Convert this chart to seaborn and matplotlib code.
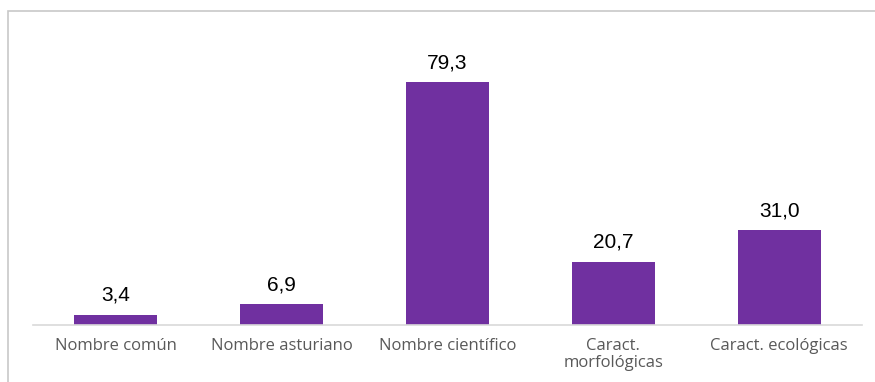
import matplotlib
matplotlib.use("Agg")
import matplotlib.pyplot as plt
import seaborn as sns
import pandas as pd
from matplotlib.patches import Rectangle

categories = ["Nombre común", "Nombre asturiano", "Nombre científico",
              "Caract.\nmorfológicas", "Caract. ecológicas"]
values = [3.4, 6.9, 79.3, 20.7, 31.0]
value_labels = ["3,4", "6,9", "79,3", "20,7", "31,0"]

df = pd.DataFrame({"cat": categories, "val": values})

sns.set_theme(style="white")
plt.rcParams['font.family'] = ['Open Sans', 'DejaVu Sans']

fig = plt.figure(figsize=(8.75, 3.82), dpi=100)
ax = fig.add_axes([33/875, 57/382, 829/875, 276/382])

sns.barplot(data=df, x="cat", y="val", color="#7030A0", width=0.5,
            saturation=1, ax=ax, edgecolor="none")

ax.set_ylim(0, 90)
ax.set_xlim(-0.5, len(categories) - 0.5)
ax.set_xlabel("")
ax.set_ylabel("")
ax.set_yticks([])
for s in ["top", "left", "right"]:
    ax.spines[s].set_visible(False)
ax.spines["bottom"].set_color("#d9d9d9")
ax.spines["bottom"].set_linewidth(1.2)
ax.tick_params(axis="x", length=0, pad=9, labelsize=12, labelcolor="#595959")
for t in ax.get_xticklabels():
    t.set_linespacing(1.15)

for p, lab in zip(ax.patches, value_labels):
    ax.annotate(lab, (p.get_x() + p.get_width() / 2, p.get_height()),
                xytext=(0, 7), textcoords="offset points", ha="center", va="bottom",
                fontsize=15, color="black", family="Liberation Sans")

fig.patches.append(Rectangle((8/875, -0.1), 1.2, 0.1 + (382 - 11)/382,
                             transform=fig.transFigure, fill=False,
                             edgecolor="#c8c8c8", linewidth=1.2))

fig.savefig("out.png", dpi=100)
